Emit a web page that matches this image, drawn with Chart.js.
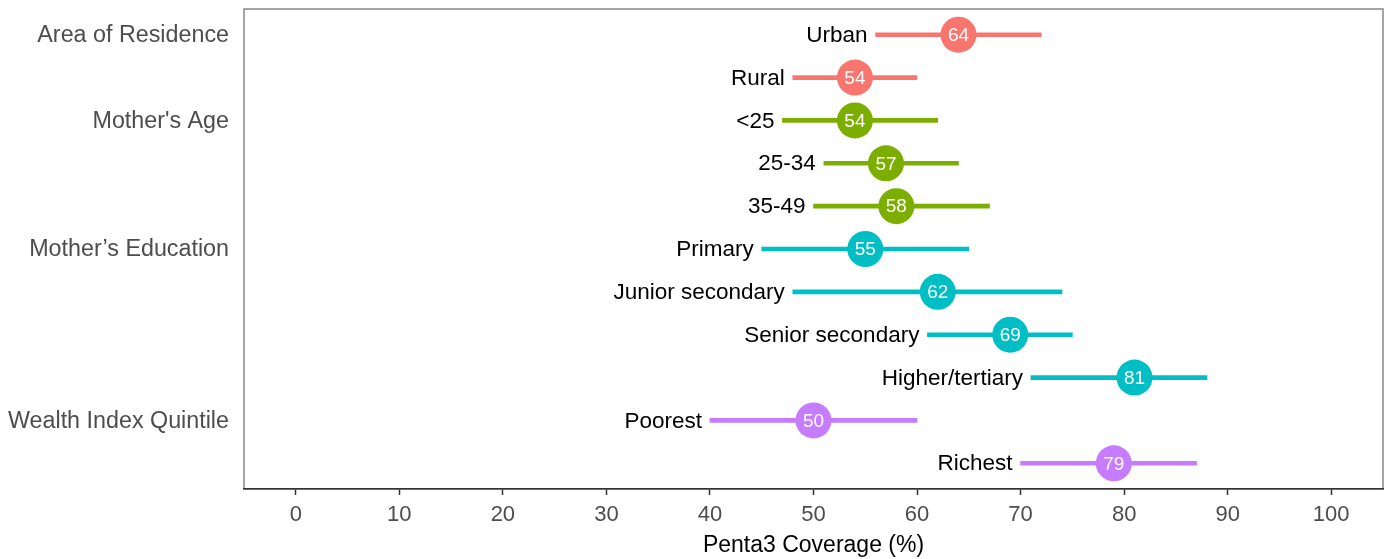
<!DOCTYPE html>
<html>
<head>
<meta charset="utf-8">
<script src="https://cdn.jsdelivr.net/npm/chart.js@4.4.1/dist/chart.umd.min.js"></script>
<style>
  html, body { margin: 0; padding: 0; background: #ffffff; }
  #wrap { width: 1389px; height: 559px; position: relative; }
</style>
</head>
<body>
<div id="wrap"><canvas id="chart" width="1389" height="559"></canvas></div>
<script>
// Penta3 coverage (%) with 95% CI, by background characteristic
const rowLabels = ["Urban", "Rural", "<25", "25-34", "35-49", "Primary", "Junior secondary",
                   "Senior secondary", "Higher/tertiary", "Poorest", "Richest"];
const groupNames = ["Area of Residence", "Mother's Age", "Mother\u2019s Education", "Wealth Index Quintile"];
const groupOfRow = [0, 0, 1, 1, 1, 2, 2, 2, 2, 3, 3];
const coverage = [64, 54, 54, 57, 58, 55, 62, 69, 81, 50, 79];
const lowerCI  = [56, 48, 47, 51, 50, 45, 48, 61, 71, 40, 70];
const upperCI  = [72, 60, 62, 64, 67, 65, 74, 75, 88, 60, 87];
const groupColors = ["#F8766D", "#7CAE00", "#00BFC4", "#C77CFF"];
const xTicks = [0, 10, 20, 30, 40, 50, 60, 70, 80, 90, 100];

const FONT = "'Liberation Sans', Arial, sans-serif";
const rowColors = groupOfRow.map(g => groupColors[g]);

// first row of each group carries the group's name
const groupFirstRow = groupNames.map((_, g) => groupOfRow.indexOf(g));

const annotatePlugin = {
  id: 'annotate',
  beforeDraw(chart) {
    const { ctx, chartArea: a } = chart;
    ctx.save();
    ctx.strokeStyle = '#7f7f7f';
    ctx.lineWidth = 1.4;
    ctx.strokeRect(a.left, a.top, a.right - a.left, a.bottom - a.top);
    ctx.restore();
  },
  afterDatasetsDraw(chart) {
    const { ctx, scales } = chart;
    const xs = scales.x, ys = scales.y;
    ctx.save();
    // category labels to the left of each interval
    ctx.font = `22.5px ${FONT}`;
    ctx.fillStyle = '#000000';
    ctx.textAlign = 'right';
    ctx.textBaseline = 'middle';
    rowLabels.forEach((lab, i) => {
      ctx.fillText(lab, xs.getPixelForValue(lowerCI[i]) - 8, ys.getPixelForValue(i) + 1);
    });
    // values inside the point markers
    const meta = chart.getDatasetMeta(1);
    ctx.font = `19px ${FONT}`;
    ctx.fillStyle = '#ffffff';
    ctx.textAlign = 'center';
    meta.data.forEach((pt, i) => {
      ctx.fillText(String(coverage[i]), pt.x, pt.y + 1);
    });
    // group names at the left margin
    ctx.font = `23.3px ${FONT}`;
    ctx.fillStyle = '#4d4d4d';
    ctx.textAlign = 'right';
    groupFirstRow.forEach((r, g) => {
      ctx.fillText(groupNames[g], chart.chartArea.left - 15, ys.getPixelForValue(r) + 1);
    });
    ctx.restore();
  }
};

new Chart(document.getElementById('chart'), {
  data: {
    datasets: [
      {
        type: 'bar',
        data: rowLabels.map((_, i) => ({ y: i, x: [lowerCI[i], upperCI[i]] })),
        backgroundColor: rowColors,
        borderWidth: 0,
        barThickness: 4,
        borderSkipped: false
      },
      {
        type: 'scatter',
        data: rowLabels.map((_, i) => ({ x: coverage[i], y: i })),
        backgroundColor: rowColors,
        borderWidth: 0,
        pointRadius: 18,
        pointHoverRadius: 18
      }
    ]
  },
  options: {
    indexAxis: 'y',
    responsive: false,
    animation: false,
    devicePixelRatio: 1,
    layout: { autoPadding: false, padding: { left: 244, top: 9, right: 6, bottom: 0 } },
    plugins: { legend: { display: false }, tooltip: { enabled: false } },
    scales: {
      x: {
        type: 'linear',
        min: -5,
        max: 105,
        afterBuildTicks(scale) { scale.ticks = xTicks.map(v => ({ value: v })); },
        afterFit(scale) { scale.height = 70; },
        ticks: {
          color: '#4d4d4d',
          font: { family: FONT, size: 22 },
          padding: 7,
          maxRotation: 0,
          autoSkip: false
        },
        grid: {
          drawOnChartArea: false,
          drawTicks: true,
          tickLength: 6,
          tickWidth: 1.5,
          tickColor: '#333333'
        },
        border: { display: true, color: '#333333', width: 1.6 },
        title: {
          display: true,
          text: 'Penta3 Coverage (%)',
          color: '#000000',
          font: { family: FONT, size: 23 },
          padding: { top: 0, bottom: 0 }
        }
      },
      y: {
        type: 'linear',
        min: -0.6,
        max: 10.6,
        reverse: true,
        offset: false,
        display: false
      }
    }
  },
  plugins: [annotatePlugin]
});
</script>
</body>
</html>
